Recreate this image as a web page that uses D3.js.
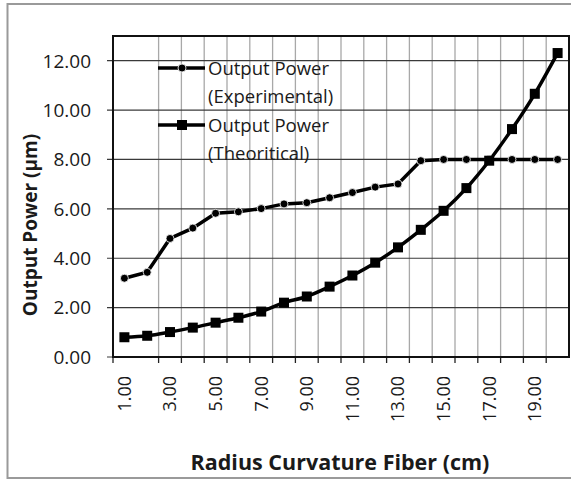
<!DOCTYPE html>
<html>
<head>
<meta charset="utf-8">
<script src="https://cdn.jsdelivr.net/npm/d3@7"></script>
<style>
  body { margin: 0; background: #fff; }
  text { font-family: "Open Sans", sans-serif; fill: #1a1a1a; }
</style>
</head>
<body>
<div id="chart"></div>
<script>
const width = 571;
const height = 480;
const marginLeft = 113;
const marginRight = 2;
const marginTop = 36;
const marginBottom = 123;

// radius of curvature (cm), one category each
const radius = [1, 2, 3, 4, 5, 6, 7, 8, 9, 10, 11, 12, 13, 14, 15, 16, 17, 18, 19, 20];
const experimental = [3.19, 3.43, 4.8, 5.22, 5.82, 5.88, 6.01, 6.2, 6.25, 6.45, 6.66, 6.88, 7.01, 7.95, 8.0, 8.0, 8.0, 8.0, 8.0, 8.0];
const theoretical = [0.8, 0.86, 1.01, 1.19, 1.39, 1.59, 1.84, 2.2, 2.45, 2.85, 3.3, 3.82, 4.44, 5.15, 5.92, 6.84, 7.95, 9.23, 10.66, 12.31];
const yTicks = [0, 2, 4, 6, 8, 10, 12];
const xLabels = [1, 3, 5, 7, 9, 11, 13, 15, 17, 19];

const svg = d3.select("#chart")
    .append("svg")
    .attr("width", width)
    .attr("height", height);

// outer chart border (right side falls off the picture)
svg.append("rect")
    .attr("x", 7.5).attr("y", 4)
    .attr("width", 620).attr("height", 474)
    .attr("fill", "none")
    .attr("stroke", "#9a9a9a")
    .attr("stroke-width", 2);

const x = d3.scaleBand()
    .domain(radius)
    .range([marginLeft, width - marginRight]);

const y = d3.scaleLinear()
    .domain([0, 13])
    .range([height - marginBottom, marginTop]);

const cx = d => x(d) + x.bandwidth() / 2;
const bottom = height - marginBottom;

// vertical gridlines at category boundaries (none between 1 and 2 in the original)
const vGrid = radius.slice(2);
svg.append("g")
    .selectAll("line")
    .data(vGrid)
    .join("line")
    .attr("x1", d => x(d)).attr("x2", d => x(d))
    .attr("y1", marginTop).attr("y2", bottom)
    .attr("stroke", "#a8a8a8")
    .attr("stroke-width", 1.3);

// horizontal gridlines
svg.append("g")
    .selectAll("line")
    .data(yTicks)
    .join("line")
    .attr("x1", marginLeft - 6).attr("x2", width - marginRight)
    .attr("y1", d => y(d)).attr("y2", d => y(d))
    .attr("stroke", "#3a3a3a")
    .attr("stroke-width", 1.2);

// x tick marks
svg.append("g")
    .selectAll("line")
    .data([radius[0]].concat(vGrid))
    .join("line")
    .attr("x1", d => x(d)).attr("x2", d => x(d))
    .attr("y1", bottom).attr("y2", bottom + 6)
    .attr("stroke", "#222")
    .attr("stroke-width", 1.3);

// plot frame
svg.append("rect")
    .attr("x", marginLeft).attr("y", marginTop)
    .attr("width", width - marginRight - marginLeft)
    .attr("height", bottom - marginTop)
    .attr("fill", "none")
    .attr("stroke", "#111")
    .attr("stroke-width", 2);

// y tick labels
svg.append("g")
    .selectAll("text")
    .data(yTicks)
    .join("text")
    .attr("x", 91)
    .attr("y", d => y(d))
    .attr("dy", "0.36em")
    .attr("text-anchor", "end")
    .style("font-size", "19px")
    .text(d => d.toFixed(2));

// x tick labels, rotated
svg.append("g")
    .selectAll("text")
    .data(xLabels)
    .join("text")
    .attr("transform", d => `translate(${cx(d)}, ${bottom + 19}) rotate(-90)`)
    .attr("dy", "0.36em")
    .attr("text-anchor", "end")
    .style("font-size", "18px")
    .text(d => d.toFixed(2));

// axis titles
svg.append("text")
    .attr("x", 340)
    .attr("y", 470)
    .attr("text-anchor", "middle")
    .style("font-size", "21.5px")
    .style("font-weight", "bold")
    .text("Radius Curvature Fiber (cm)");

svg.append("text")
    .attr("transform", "translate(30, 225) rotate(-90)")
    .attr("dy", "0.36em")
    .attr("text-anchor", "middle")
    .style("font-size", "19px")
    .style("font-weight", "bold")
    .text("Output Power (µm)");

// series
const line = d3.line()
    .x((d, i) => cx(radius[i]))
    .y(d => y(d));

svg.append("path")
    .datum(experimental)
    .attr("d", line)
    .attr("fill", "none")
    .attr("stroke", "#000")
    .attr("stroke-width", 3.5);

svg.append("path")
    .datum(theoretical)
    .attr("d", line.curve(d3.curveMonotoneX))
    .attr("fill", "none")
    .attr("stroke", "#000")
    .attr("stroke-width", 3.5);

svg.append("g")
    .selectAll("circle")
    .data(experimental)
    .join("circle")
    .attr("cx", (d, i) => cx(radius[i]))
    .attr("cy", d => y(d))
    .attr("r", 4)
    .attr("fill", "#000")
    .attr("stroke", "#fff")
    .attr("stroke-width", 0.8);

const sq = 10;
svg.append("g")
    .selectAll("rect")
    .data(theoretical)
    .join("rect")
    .attr("x", (d, i) => cx(radius[i]) - sq / 2)
    .attr("y", d => y(d) - sq / 2)
    .attr("width", sq).attr("height", sq)
    .attr("fill", "#000");

// legend
const legend = svg.append("g");
const legendRows = [
    {y: 68, lines: ["Output Power", "(Experimental)"], marker: "circle"},
    {y: 125, lines: ["Output Power", "(Theoritical)"], marker: "square"}
];
legendRows.forEach(r => {
    legend.append("line")
        .attr("x1", 158).attr("x2", 205)
        .attr("y1", r.y).attr("y2", r.y)
        .attr("stroke", "#000").attr("stroke-width", 3.5);
    if (r.marker === "circle") {
        legend.append("circle")
            .attr("cx", 182).attr("cy", r.y).attr("r", 4)
            .attr("fill", "#000").attr("stroke", "#fff").attr("stroke-width", 0.8);
    } else {
        legend.append("rect")
            .attr("x", 182 - sq / 2).attr("y", r.y - sq / 2)
            .attr("width", sq).attr("height", sq).attr("fill", "#000");
    }
    r.lines.forEach((t, i) => {
        legend.append("text")
            .attr("x", 208)
            .attr("y", r.y + i * 28)
            .attr("dy", "0.36em")
            .style("font-size", "18.5px")
            .text(t);
    });
});
</script>
</body>
</html>
